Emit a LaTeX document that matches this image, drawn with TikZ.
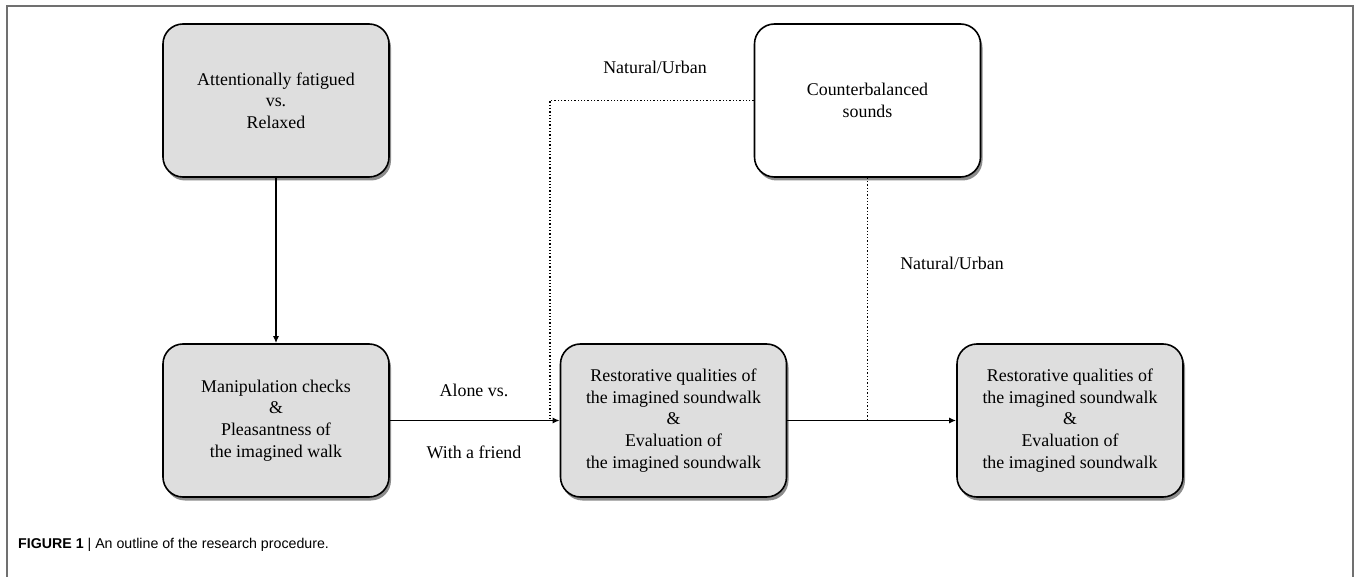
\documentclass[tikz,border=0pt]{standalone}
\usepackage{fontspec}
\setmainfont{Liberation Serif}
\newfontfamily\capfont{Liberation Sans}
\usepackage{xcolor}
\definecolor{boxgrey}{HTML}{DEDEDE}
\definecolor{framegrey}{HTML}{707070}
\usepackage{tikz}
\usetikzlibrary{calc}
\usetikzlibrary{arrows.meta,arrows}
\usetikzlibrary{shadows}
\def\fsize{17.9}

\begin{document}
\begin{tikzpicture}[x=1pt, y=-1pt,
  box/.style={draw, line width=1.6pt, rounded corners=20pt, fill=boxgrey,
    minimum width=226pt, minimum height=153pt, inner sep=0pt, align=center,
    font=\fontsize{\fsize}{21.7}\selectfont,
    drop shadow={shadow xshift=2pt, shadow yshift=-3.5pt, fill=black, opacity=0.45}},
  lbl/.style={font=\fontsize{\fsize}{21.7}\selectfont},
  link/.style={line width=1.4pt, -{Latex[length=7pt,width=6pt]}},
  sound/.style={line width=1.3pt, dash pattern=on 1.3pt off 2pt}]

\useasboundingbox (0,0) rectangle (1358,577);

% FRAME
\draw[framegrey, line width=1.5pt] (7,577) -- (7,6) -- (1353,6) -- (1353,577);

% BOXES
\node[box] (fatigue) at (276,100.5) {Attentionally fatigued\\vs.\\Relaxed};
\node[box] (checks) at (276,420.5) {Manipulation checks\\\&\\Pleasantness of\\the imagined walk};
\node[box] (restA) at (673.5,420.5) {Restorative qualities of\\the imagined soundwalk\\\&\\Evaluation of\\the imagined soundwalk};
\node[box, fill=white] (sounds) at (867.5,100.5) {Counterbalanced\\sounds};
\node[box] (restB) at (1070,420.5) {Restorative qualities of\\the imagined soundwalk\\\&\\Evaluation of\\the imagined soundwalk};

% ARROWS
\draw[link] (fatigue) -- (checks);
\draw[link] (checks) -- (restA);
\draw[link] (restA) -- (restB);

% SOUND LINES
\coordinate (jA) at (550,420.5);
\coordinate (jB) at (sounds.south |- restA.east);
\draw[sound] (sounds.west) -| (jA);
\draw[sound] (sounds.south) -- (jB);

% LABELS
\node[lbl] (alone) at (474,390) {Alone vs.};
\node[lbl] (friend) at (474,452) {With a friend};
\node[lbl] (natA) at (655,67) {Natural/Urban};
\node[lbl] (natB) at (952,263) {Natural/Urban};

% CAPTION
\node[anchor=west, inner sep=0pt, font=\capfont\fontsize{14.2}{17}\selectfont] (caption) at (18,545)
  {\textbf{FIGURE 1} | An outline of the research procedure.};

\end{tikzpicture}
\end{document}
